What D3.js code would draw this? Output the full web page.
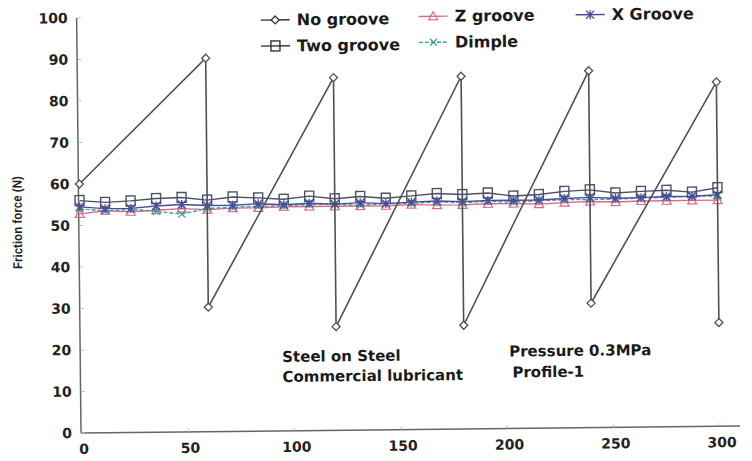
<!DOCTYPE html>
<html><head><meta charset="utf-8">
<script src="https://cdn.jsdelivr.net/npm/d3@7"></script>
<style>body{margin:0;background:#fff}svg{display:block}</style>
</head><body>
<svg id="c" width="752" height="461"></svg>
<script>
// ---- data ----
const xValues   = [0,12,24,36,48,60,72,84,96,108,120,132,144,156,168,180,192,204,216,228,240,252,264,276,288,300];
const noGrooveX = [0,60,60,120,120,180,180,240,240,300,300];
const noGrooveY = [60,90,30,85,25,85,25,86,30,83,25];
const twoGroove = [56,55.5,55.8,56.3,56.5,55.8,56.5,56.2,55.8,56.5,55.8,56.3,55.8,56.3,56.8,56.5,56.8,56,56.3,57,57.3,56.5,56.8,57,56.5,57.5];
const xGroove   = [54.5,54,54,54.5,54.8,54.5,54.5,54.8,54.5,54.8,54.5,54.8,54.5,54.8,55,54.8,55,55,55,55.3,55.5,55.2,55.3,55.5,55.5,55.8];
const zGroove   = [52.8,53.5,53.2,53.5,53.8,53.5,53.8,53.8,54,54,54,54,54,54.2,54,54,54.2,54.2,54,54.3,54.5,54.3,54.5,54.5,54.5,54.5];
const dimple    = [54,53.5,53.8,53.2,52.5,53.8,54,54.2,54.2,54.5,54.5,54.2,54.5,54.5,54.8,54.5,54.8,54.5,54.8,55,55,55,55.2,55.3,55.5,55.5];
const yTicks = [0,10,20,30,40,50,60,70,80,90,100];
const xTicks = [0,50,100,150,200,250,300];

// ---- chart ----
const svg = d3.select("#c");
const g = svg.append("g").attr("transform","rotate(-0.6,82,433)");
const x = d3.scaleLinear().domain([0,300]).range([82,720]);
const y = d3.scaleLinear().domain([0,100]).range([433,18]);
const FONT = "'DejaVu Sans', sans-serif";

const col = {no:"#505050", two:"#4a5066", z:"#e0678a", xg:"#4b4b9e", dim:"#3aa396"};

function marker(sel, type, color, cx, cy){
  const s = sel.append("g").attr("transform",`translate(${cx},${cy})`);
  if(type==="diamond"){
    s.append("path").attr("d","M0,-4L4,0L0,4L-4,0Z").attr("fill","#fff").attr("stroke",color).attr("stroke-width",1.3);
  } else if(type==="square"){
    s.append("rect").attr("x",-4.5).attr("y",-5).attr("width",9).attr("height",10).attr("fill","none").attr("stroke",color).attr("stroke-width",1.4);
  } else if(type==="triangle"){
    s.append("path").attr("d","M0,-4.5L4.5,3.5L-4.5,3.5Z").attr("fill","none").attr("stroke",color).attr("stroke-width",1.2);
  } else if(type==="times"){
    s.append("path").attr("d","M-3.5,-3.5L3.5,3.5M-3.5,3.5L3.5,-3.5").attr("stroke",color).attr("stroke-width",1.3);
  } else if(type==="asterisk"){
    s.append("path").attr("d","M-4,-4L4,4M-4,4L4,-4M0,-4.5L0,4.5").attr("stroke",color).attr("stroke-width",1.3);
  }
}

// axes
g.append("line").attr("x1",x(0)-1).attr("x2",x(300)+20).attr("y1",y(0)).attr("y2",y(0)).attr("stroke","#666").attr("stroke-width",1.5);
g.append("line").attr("x1",x(0)-1).attr("x2",x(0)-1).attr("y1",y(0)).attr("y2",y(100)).attr("stroke","#666").attr("stroke-width",1.5);
yTicks.forEach(t=>{
  g.append("line").attr("x1",x(0)).attr("x2",x(0)+3).attr("y1",y(t)).attr("y2",y(t)).attr("stroke","#bbb");
  g.append("text").attr("x",72).attr("y",y(t)+5).attr("text-anchor","end")
   .attr("font-family",FONT).attr("font-weight","bold").attr("font-size",14).attr("fill","#222").text(t);
});
xTicks.forEach(t=>{
  g.append("line").attr("x1",x(t)).attr("x2",x(t)).attr("y1",y(0)).attr("y2",y(0)-3).attr("stroke","#bbb");
  g.append("text").attr("x",x(t)+2).attr("y",y(0)+21).attr("text-anchor","middle")
   .attr("font-family",FONT).attr("font-weight","bold").attr("font-size",14).attr("fill","#222").text(t);
});
g.append("text").attr("transform","translate(24,222) rotate(-90)").attr("text-anchor","middle")
 .attr("font-family","'Liberation Sans Narrow','Liberation Sans',sans-serif").attr("font-weight","bold")
 .attr("font-size",13).attr("textLength",93).attr("lengthAdjust","spacingAndGlyphs").attr("fill","#222").text("Friction force (N)");

// series
const line = d3.line().x(d=>x(d[0])).y(d=>y(d[1]));
function series(vals, color, type, dash){
  const pts = xValues.map((v,i)=>[v,vals[i]]);
  g.append("path").attr("d",line(pts)).attr("fill","none").attr("stroke",color).attr("stroke-width",1.4)
   .attr("stroke-dasharray",dash||null);
  pts.forEach(p=>marker(g,type,color,x(p[0]),y(p[1])));
}
series(zGroove,col.z,"triangle");
series(dimple,col.dim,"times","4,2");
series(twoGroove,col.two,"square");
series(xGroove,col.xg,"asterisk");

const noPts = noGrooveX.map((v,i)=>[v,noGrooveY[i]]);
g.append("path").attr("d",line(noPts)).attr("fill","none").attr("stroke",col.no).attr("stroke-width",1.6);
noPts.forEach(p=>marker(g,"diamond",col.no,x(p[0]),y(p[1])));

// legend
const legend = [
  {name:"No groove", color:"#333", type:"diamond", lx:265, ly:22},
  {name:"Z groove", color:col.z, type:"triangle", lx:423, ly:20},
  {name:"X Groove", color:col.xg, type:"asterisk", lx:580, ly:20},
  {name:"Two groove", color:"#333", type:"square", lx:265, ly:48},
  {name:"Dimple", color:col.dim, type:"times", lx:423, ly:46, dash:"4,2"}
];
legend.forEach(l=>{
  g.append("line").attr("x1",l.lx).attr("x2",l.lx+29).attr("y1",l.ly).attr("y2",l.ly)
   .attr("stroke",l.color).attr("stroke-width",1.4).attr("stroke-dasharray",l.dash||null);
  marker(g,l.type,l.color,l.lx+14.5,l.ly);
  g.append("text").attr("x",l.lx+36).attr("y",l.ly+5.5).attr("font-family",FONT).attr("font-weight","bold")
   .attr("font-size",16).attr("fill","#1a1a1a").text(l.name);
});

// annotations
const ann = [
  {t:"Steel on Steel", x:283, y:364},
  {t:"Commercial lubricant", x:283, y:384},
  {t:"Pressure 0.3MPa", x:510, y:361},
  {t:"Profile-1", x:513, y:382}
];
ann.forEach(a=>g.append("text").attr("x",a.x).attr("y",a.y).attr("font-family",FONT).attr("font-weight","bold")
  .attr("font-size",15).attr("fill","#1a1a1a").text(a.t));
</script>
</body></html>
